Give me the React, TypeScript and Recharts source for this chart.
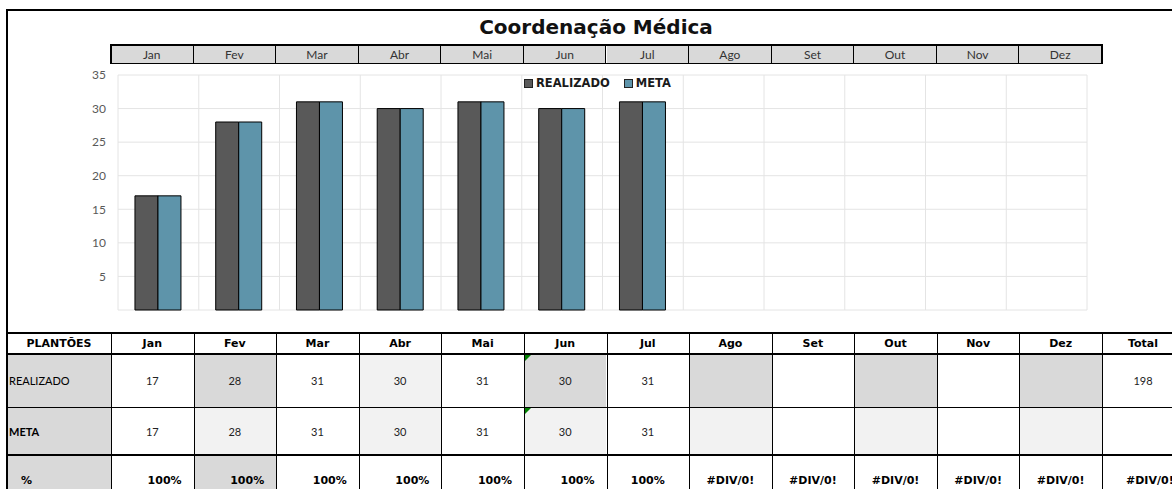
import { BarChart, Bar, XAxis, YAxis, CartesianGrid, Legend } from 'recharts';

const months = ['Jan', 'Fev', 'Mar', 'Abr', 'Mai', 'Jun', 'Jul', 'Ago', 'Set', 'Out', 'Nov', 'Dez'];
const realizado = [17, 28, 31, 30, 31, 30, 31, null, null, null, null, null];
const meta = [17, 28, 31, 30, 31, 30, 31, null, null, null, null, null];
const pctLabels = ['100%', '100%', '100%', '100%', '100%', '100%', '100%', '#DIV/0!', '#DIV/0!', '#DIV/0!', '#DIV/0!', '#DIV/0!'];
const pctTotal = '#DIV/0!';
const seriesNames = ['REALIZADO', 'META'];
const yTicks = [0, 5, 10, 15, 20, 25, 30, 35];

const chartData = months.map((m, i) => ({ month: m, realizado: realizado[i], meta: meta[i] }));
const totalRealizado = realizado.reduce((s, v) => s + (v ?? 0), 0);

// cell shading, as in the sheet
const realizadoBg = ['#fff', '#d9d9d9', '#fff', '#f2f2f2', '#fff', '#d9d9d9', '#fff', '#d9d9d9', '#fff', '#d9d9d9', '#fff', '#d9d9d9'];
const metaBg = ['#fff', '#f2f2f2', '#fff', '#f2f2f2', '#fff', '#f2f2f2', '#fff', '#f2f2f2', '#fff', '#f2f2f2', '#fff', '#f2f2f2'];
const pctBg = ['#fff', '#d9d9d9', '#fff', '#fff', '#fff', '#fff', '#fff', '#fff', '#fff', '#fff', '#fff', '#fff'];

const GOTHIC = '"DejaVu Sans", sans-serif';
const CALIBRI = 'Lato, sans-serif';
const COLW = 991 / 12;
const colX = (i: number) => 111 + i * COLW;
const TOTW = 82;

const Box = ({ x, y, w, h, bg = 'transparent', children, style }: any) => (
  <div
    style={{
      position: 'absolute', left: x, top: y, width: w, height: h, background: bg,
      display: 'flex', alignItems: 'center', justifyContent: 'center', boxSizing: 'border-box',
      ...style,
    }}
  >
    {children}
  </div>
);

const Line = ({ x, y, w, h }: any) => (
  <div style={{ position: 'absolute', left: x, top: y, width: w, height: h, background: '#000' }} />
);

const Tri = ({ x, y }: any) => (
  <div style={{ position: 'absolute', left: x, top: y, width: 0, height: 0, borderTop: '6px solid #008000', borderRight: '6px solid transparent' }} />
);

const renderLegend = (props: any) => {
  const items = [...props.payload].sort((a: any, b: any) => seriesNames.indexOf(a.value) - seriesNames.indexOf(b.value));
  return (
    <div style={{ display: 'flex', gap: 14, fontFamily: GOTHIC, fontWeight: 700, fontSize: 11.5, color: '#1a1a1a' }}>
      {items.map((p: any) => (
        <div key={p.value} style={{ display: 'flex', alignItems: 'center', gap: 3 }}>
          <span style={{ width: 7, height: 7, background: p.color, border: '1px solid #222', display: 'inline-block' }} />
          {p.value}
        </div>
      ))}
    </div>
  );
};

export default function App() {
  const rowTop = [333, 354, 407, 455];
  const pctStyle = { fontFamily: GOTHIC, fontWeight: 700, fontSize: 11, paddingTop: 11 };
  return (
    <div style={{ position: 'relative', width: 1172, height: 489, background: '#fff', overflow: 'hidden' }}>
      <style>{'body{margin:0}'}</style>

      {/* title */}
      <Box x={0} y={12} w={1192} h={30} style={{ fontFamily: GOTHIC, fontWeight: 700, fontSize: 20, color: '#111' }}>
        Coordenação Médica
      </Box>

      {/* month header strip */}
      {months.map((m, i) => (
        <Box key={m} x={colX(i)} y={45} w={COLW} h={18} bg="#d9d9d9"
          style={{ fontFamily: CALIBRI, fontSize: 12, color: '#333', borderRight: '1px solid #000' }}>
          {m}
        </Box>
      ))}
      <div style={{ position: 'absolute', left: 110, top: 44, width: 993, height: 20, border: '2px solid #000', borderWidth: '2px 2px 1.5px 2px', boxSizing: 'border-box' }} />

      <div style={{ position: 'absolute', left: 0, top: 0 }}>
        <BarChart width={1172} height={330} data={chartData} margin={{ top: 75, right: 85, bottom: 20, left: 0 }}
          barCategoryGap="21%" barGap={0}>
          <CartesianGrid stroke="#e4e4e4"
            verticalCoordinatesGenerator={({ offset }: any) =>
              Array.from({ length: months.length + 1 }, (_, i) => offset.left + (i * offset.width) / months.length)} />
          <XAxis dataKey="month" hide />
          <YAxis width={118} domain={[0, 35]} ticks={yTicks} axisLine={false} tickLine={false} tickMargin={6}
            tickFormatter={(v: number) => (v === 0 ? '' : String(v))}
            tick={{ fill: '#595959', fontSize: 12, fontFamily: CALIBRI }} />
          <Legend layout="horizontal" verticalAlign="middle" align="center" content={renderLegend}
            wrapperStyle={{ top: 76, left: 524, width: 220, height: 16 }} />
          <Bar dataKey="realizado" name="REALIZADO" fill="#595959" stroke="#000" strokeWidth={1} isAnimationActive={false} />
          <Bar dataKey="meta" name="META" fill="#5e94aa" stroke="#000" strokeWidth={1} isAnimationActive={false} />
        </BarChart>
      </div>

      {/* table: header */}
      <Box x={7} y={rowTop[0]} w={104} h={21} style={{ fontFamily: GOTHIC, fontWeight: 700, fontSize: 11 }}>PLANTÕES</Box>
      {months.map((m, i) => (
        <Box key={'h' + m} x={colX(i)} y={rowTop[0]} w={COLW} h={21} style={{ fontFamily: GOTHIC, fontWeight: 700, fontSize: 11 }}>{m}</Box>
      ))}
      <Box x={1102} y={rowTop[0]} w={TOTW} h={21} style={{ fontFamily: GOTHIC, fontWeight: 700, fontSize: 11 }}>Total</Box>

      {/* REALIZADO row */}
      <Box x={7} y={rowTop[1]} w={104} h={53} bg="#d9d9d9" style={{ justifyContent: 'flex-start', paddingLeft: 2, fontFamily: CALIBRI, fontSize: 11 }}>REALIZADO</Box>
      {months.map((m, i) => (
        <Box key={'r' + m} x={colX(i)} y={rowTop[1]} w={COLW} h={53} bg={realizadoBg[i]} style={{ fontFamily: CALIBRI, fontSize: 11, color: '#222' }}>
          {realizado[i] ?? ''}
        </Box>
      ))}
      <Box x={1102} y={rowTop[1]} w={TOTW} h={53} style={{ fontFamily: CALIBRI, fontSize: 11, color: '#222' }}>{totalRealizado}</Box>

      {/* META row */}
      <Box x={7} y={rowTop[2]} w={104} h={48} bg="#d9d9d9" style={{ justifyContent: 'flex-start', paddingLeft: 2, fontFamily: CALIBRI, fontWeight: 700, fontSize: 11 }}>META</Box>
      {months.map((m, i) => (
        <Box key={'m' + m} x={colX(i)} y={rowTop[2]} w={COLW} h={48} bg={metaBg[i]} style={{ fontFamily: CALIBRI, fontSize: 11, color: '#222' }}>
          {meta[i] ?? ''}
        </Box>
      ))}

      {/* % row */}
      <Box x={7} y={rowTop[3]} w={104} h={40} bg="#d9d9d9" style={{ ...pctStyle, justifyContent: 'flex-start', paddingLeft: 14 }}>%</Box>
      {months.map((m, i) => (
        <Box key={'p' + m} x={colX(i)} y={rowTop[3]} w={COLW} h={40} bg={pctBg[i]}
          style={{ ...pctStyle, justifyContent: i < 6 ? 'flex-end' : 'center', paddingRight: i < 6 ? 12 : 0 }}>
          {pctLabels[i]}
        </Box>
      ))}
      <Box x={1102} y={rowTop[3]} w={TOTW} h={40} style={{ ...pctStyle, justifyContent: 'flex-start', paddingLeft: 24 }}>{pctTotal}</Box>

      {/* grid lines of the sheet */}
      <Line x={6} y={9} w={1166} h={2} />
      <Line x={6} y={9} w={2} h={480} />
      <Line x={6} y={332} w={1166} h={2} />
      <Line x={6} y={353} w={1166} h={2} />
      <Line x={6} y={407} w={1166} h={1} />
      <Line x={6} y={454} w={1166} h={2} />
      {Array.from({ length: months.length + 1 }, (_, i) => (
        <Line key={'v' + i} x={Math.round(colX(i))} y={333} w={1} h={160} />
      ))}
      <Tri x={Math.round(colX(5)) + 1} y={355} />
      <Tri x={Math.round(colX(5)) + 1} y={408} />
    </div>
  );
}
